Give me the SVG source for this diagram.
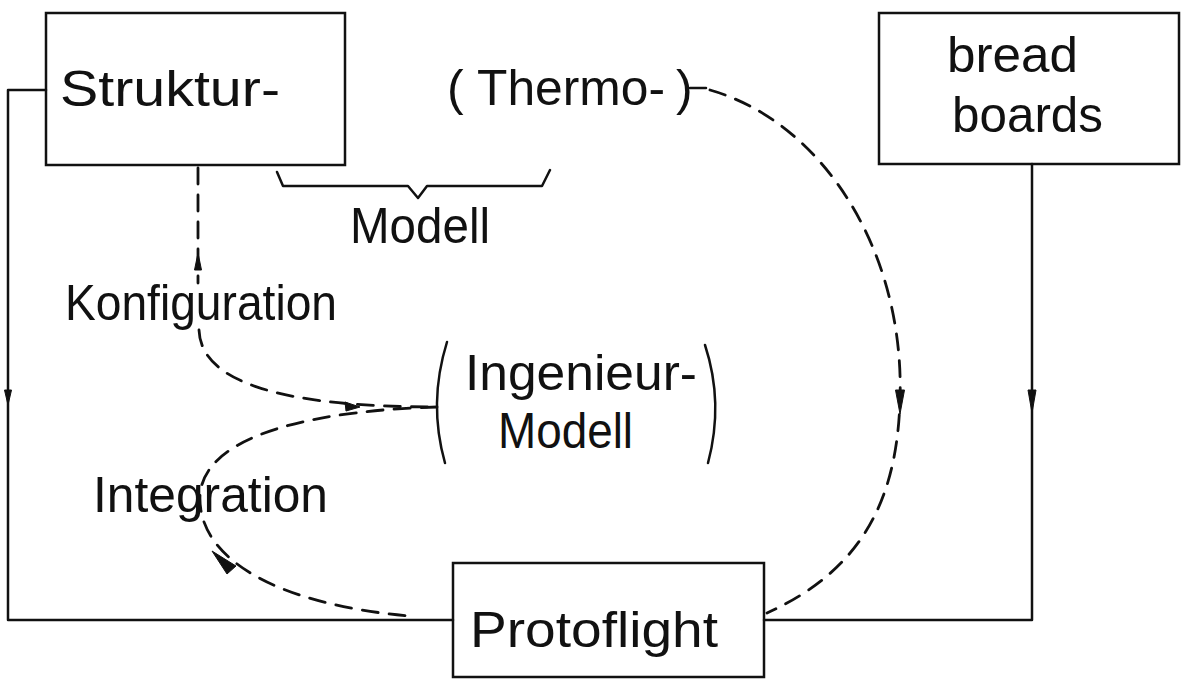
<svg xmlns="http://www.w3.org/2000/svg" width="1182" height="679" viewBox="0 0 1182 679">
<style>
.box{fill:none;stroke:#111;stroke-width:2.5}
.ln{fill:none;stroke:#111;stroke-width:2.5;stroke-linecap:round;stroke-linejoin:round}
.ds{fill:none;stroke:#111;stroke-width:2.8;stroke-dasharray:16 11;stroke-linecap:round}
.hd{fill:#111;stroke:#111;stroke-width:1}
.t{font-family:"Liberation Sans","DejaVu Sans",sans-serif;font-size:50px;fill:#111}
</style>
<rect width="1182" height="679" fill="#fff"/>
<g id="connectors">
  <path class="ln" d="M46 90 H8 V620 H453"/>
  <path class="hd" d="M8 405 L4.5 390 L11.5 390 Z"/>
  <path class="ln" d="M1032 164 V620 H764"/>
  <path class="hd" d="M1032 413 L1028 390 L1036 390 Z"/>
  <path class="ds" d="M198 168 L198 283"/>
  <path class="hd" d="M198 253 L194.5 270 L201.5 270 Z"/>
  <path class="ds" d="M199 330 C201 385 290 407 437 407"/>
  <path class="hd" d="M360 407 L345 402 L346 411 Z"/>
  <path class="ds" d="M437 407 C330 410 205 430 200 495 C197 560 280 605 410 616"/>
  <path class="hd" d="M212 551 L236 566 L227 574 Z"/>
  <path class="ln" d="M690 88 H706"/>
  <path class="ds" d="M710 90 C822 122 905 250 900 400 C897 500 862 570 767 613"/>
  <path class="hd" d="M900 414 L895.5 390 L904.5 390 Z"/>
</g>
<g id="struktur">
  <rect class="box" x="46" y="13" width="299" height="152"/>
  <text class="t" x="60" y="106" textLength="220" lengthAdjust="spacingAndGlyphs">Struktur-</text>
</g>
<g id="thermo">
  <text class="t" y="105"><tspan x="447">(</tspan><tspan x="477" textLength="188" lengthAdjust="spacingAndGlyphs">Thermo-</tspan><tspan x="676">)</tspan></text>
</g>
<g id="modell-brace">
  <path class="ln" d="M277 172 L283 186 H408 L418 198 L427 186 H542 L550 170"/>
  <text class="t" x="350" y="243" textLength="140" lengthAdjust="spacingAndGlyphs">Modell</text>
</g>
<g id="breadboards">
  <rect class="box" x="879" y="13" width="300" height="151"/>
  <text class="t" x="947" y="72" textLength="131" lengthAdjust="spacingAndGlyphs">bread</text>
  <text class="t" x="952" y="132" textLength="151" lengthAdjust="spacingAndGlyphs">boards</text>
</g>
<g id="konfiguration">
  <text class="t" x="65" y="320" textLength="272" lengthAdjust="spacingAndGlyphs">Konfiguration</text>
</g>
<g id="ingenieur">
  <path class="ln" d="M447 342 Q428 403 445 463"/>
  <path class="ln" d="M705 345 Q724 403 708 463"/>
  <text class="t" x="465" y="390" textLength="232" lengthAdjust="spacingAndGlyphs">Ingenieur-</text>
  <text class="t" x="498" y="448" textLength="135" lengthAdjust="spacingAndGlyphs">Modell</text>
</g>
<g id="integration">
  <text class="t" x="93" y="512" textLength="235" lengthAdjust="spacingAndGlyphs">Integration</text>
</g>
<g id="protoflight">
  <rect class="box" x="453" y="563" width="311" height="114"/>
  <text class="t" x="470" y="647" font-size="54" textLength="248" lengthAdjust="spacingAndGlyphs">Protoflight</text>
</g>
</svg>
